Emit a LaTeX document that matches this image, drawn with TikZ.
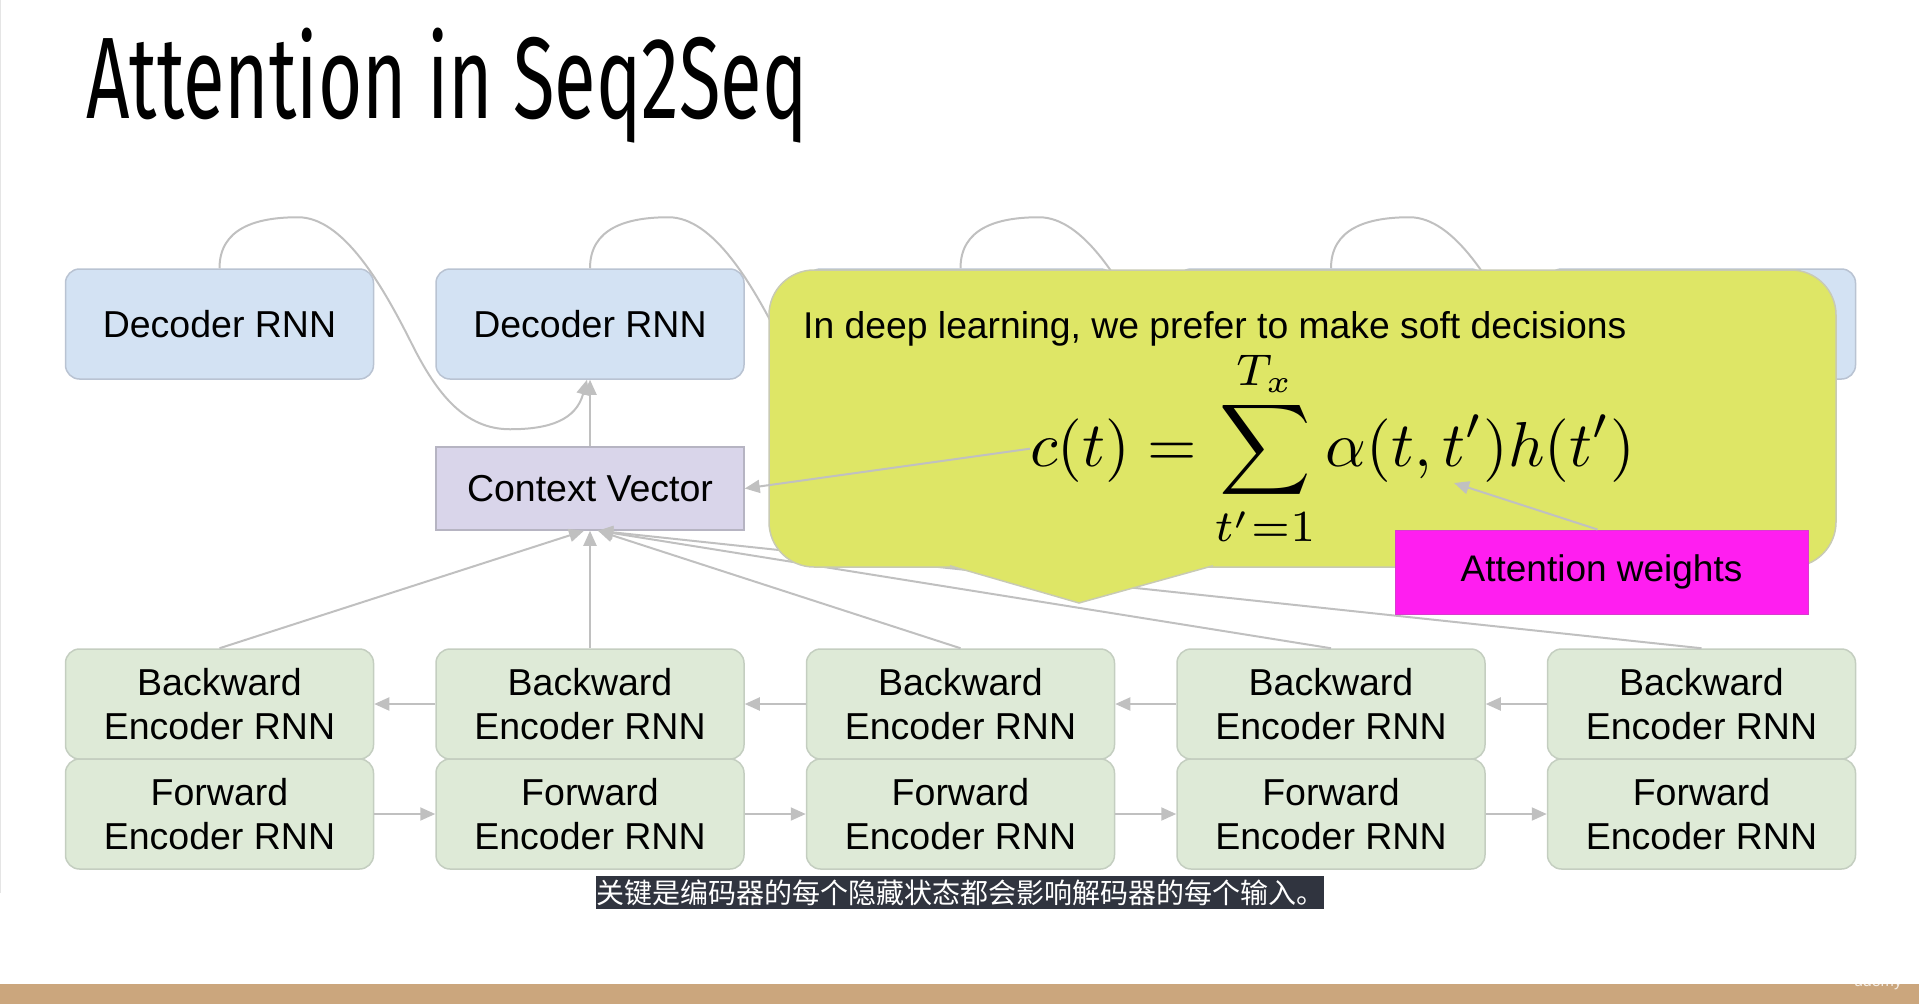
\RequirePackage{fix-cm}
\documentclass[tikz,border=0pt]{standalone}
\usepackage{graphicx}
\usepackage[no-math]{fontspec}
\setmainfont{Liberation Sans}
\newfontfamily\titlefont[FakeStretch=0.655]{Fira Sans}
\newfontfamily\cjk{Noto Sans CJK SC}
\usetikzlibrary{arrows.meta,calc}
\definecolor{decblue}{RGB}{211,226,243}
\definecolor{decedge}{RGB}{185,195,210}
\definecolor{encgreen}{RGB}{222,234,215}
\definecolor{encedge}{RGB}{196,206,192}
\definecolor{ctxlilac}{RGB}{217,213,234}
\definecolor{ctxedge}{RGB}{182,180,194}
\definecolor{noteyellow}{RGB}{222,230,102}
\definecolor{noteedge}{RGB}{200,202,180}
\definecolor{attnpink}{RGB}{255,30,240}
\definecolor{wiregray}{RGB}{192,192,192}
\definecolor{capbg}{RGB}{48,52,63}
\definecolor{bartan}{RGB}{203,166,125}

\begin{document}
\begin{tikzpicture}[x=1pt, y=-1pt,
  dec/.style = {draw=decedge, fill=decblue, line width=1.5pt, rounded corners=14pt, minimum width=308pt, minimum height=110pt, font=\fontsize{37.5}{44}\selectfont},
  enc/.style = {draw=encedge, fill=encgreen, line width=1.5pt, rounded corners=14pt, minimum width=308pt, minimum height=110pt, align=center, font=\fontsize{37.5}{44}\selectfont},
  ctx/.style = {draw=ctxedge, fill=ctxlilac, line width=1.5pt, minimum width=308pt, minimum height=83pt, font=\fontsize{37.5}{44}\selectfont},
  note/.style = {draw=noteedge, fill=noteyellow, line width=1.5pt, rounded corners=45pt, minimum width=1067pt, minimum height=297pt},
  attn/.style = {draw=attnpink!70!gray, fill=attnpink, line width=1pt, minimum width=413pt, minimum height=84pt, font=\fontsize{37}{44}\selectfont},
  conn/.style = {draw=wiregray, line width=2pt, -{Triangle[length=15pt,width=13pt]}},
  caption/.style = {fill=capbg, text=white, inner xsep=0pt, inner ysep=1pt, minimum height=33pt, font=\cjk\fontsize{28}{33}\selectfont}]
  \useasboundingbox (0,0) rectangle (1919,1004);
  \draw[black!10, line width=1pt] (0.5,0) -- (0.5,893);

  % title
  \node[anchor=base west, inner sep=0pt, font=\titlefont\fontsize{116}{120}\selectfont] (title) at (86,118) {Attention in Seq2Seq};

  % decoder row
  \node[dec] (d1) at (219.5,324) {Decoder RNN};
  \node[dec] (d2) at (590,324) {Decoder RNN};
  \node[dec] (d3) at (960.5,324) {Decoder RNN};
  \node[dec] (d4) at (1331,324) {Decoder RNN};
  \node[dec] (d5) at (1701.5,324) {Decoder RNN};

  \node[ctx] (ctx) at (590,488.5) {Context Vector};

  % encoder rows
  \node[enc] (b1) at (219.5,704) {Backward\\Encoder RNN};
  \node[enc] (b2) at (590,704) {Backward\\Encoder RNN};
  \node[enc] (b3) at (960.5,704) {Backward\\Encoder RNN};
  \node[enc] (b4) at (1331,704) {Backward\\Encoder RNN};
  \node[enc] (b5) at (1701.5,704) {Backward\\Encoder RNN};
  \node[enc] (f1) at (219.5,814) {Forward\\Encoder RNN};
  \node[enc] (f2) at (590,814) {Forward\\Encoder RNN};
  \node[enc] (f3) at (960.5,814) {Forward\\Encoder RNN};
  \node[enc] (f4) at (1331,814) {Forward\\Encoder RNN};
  \node[enc] (f5) at (1701.5,814) {Forward\\Encoder RNN};

  \draw[conn] (b2) -- (b1);
  \draw[conn] (b3) -- (b2);
  \draw[conn] (b4) -- (b3);
  \draw[conn] (b5) -- (b4);
  \draw[conn] (f1) -- (f2);
  \draw[conn] (f2) -- (f3);
  \draw[conn] (f3) -- (f4);
  \draw[conn] (f4) -- (f5);

  \draw[conn] (b1.north) -- ([xshift=-6pt]ctx.south);
  \draw[conn] (b2.north) -- (ctx.south);
  \draw[conn] (b3.north) -- ([xshift=8pt]ctx.south);
  \draw[conn] (b4.north) -- ([xshift=8pt]ctx.south);
  \draw[conn] (b5.north) -- ([xshift=8pt]ctx.south);
  \draw[conn] (ctx) -- (d2);

  % decoder feedback loops
  \foreach \i/\j in {1/2,2/3,3/4,4/5} {
    \coordinate (p\i) at ($(d\i.north)+(78.5,-51)$);
    \coordinate (m\i) at ($(d\i.north)+(192.5,76)$);
    \coordinate (q\i) at ($(d\i.north)+(290.5,161)$);
    \draw[conn] (d\i.north) .. controls ($(d\i.north)+(0,-40)$) and ($(p\i)+(-42,0)$) .. (p\i)
      .. controls ($(p\i)+(45,0)$) and ($(m\i)+(-30,-60)$) .. (m\i)
      .. controls ($(m\i)+(25,50)$) and ($(q\i)+(-45,0)$) .. (q\i)
      .. controls ($(q\i)+(40,0)$) and ($(d\j.south)+(-14,40)$) .. ([xshift=-3pt]d\j.south);
  }

  % soft decision callout
  \node[note] (note) at (1302.5,418.5) {};
  \coordinate (tip) at (1079,603);
  \path[fill=noteyellow, draw=noteedge, line width=1.5pt] ($(note.south)+(-352.5,-2)$) -- (tip) -- ($(note.south)+(-89.5,-2)$);
  \node[anchor=base west, inner sep=0pt, font=\fontsize{37.3}{44}\selectfont] (soft) at (803,338) {In deep learning, we prefer to make soft decisions};
  \node[anchor=base west, inner sep=0pt] (eq) at (1030,466) {\scalebox{6.35}{$\displaystyle c(t)=\sum_{t'=1}^{T_x}\alpha(t,t')h(t')$}};
  \draw[conn] (eq.west) -- (ctx.east);

  \node[attn] (aw) at (1601.5,572) {Attention weights};
  \coordinate (alpha) at (1454,483);
  \draw[conn] ([xshift=-4pt]aw.north) -- (alpha);

  % subtitle and footer
  \node[caption] (sub) at (960,892.5) {关键是编码器的每个隐藏状态都会影响解码器的每个输入。};
  \fill[bartan] (0,984) rectangle (1919,1004);
  \node[text=white, opacity=0.8, font=\fontsize{16}{16}\selectfont] (logo) at (1878,982) {udemy};
\end{tikzpicture}
\end{document}
